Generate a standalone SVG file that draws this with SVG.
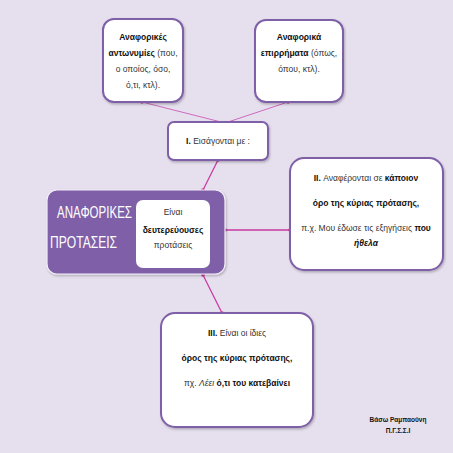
<svg xmlns="http://www.w3.org/2000/svg" width="453" height="453" viewBox="0 0 453 453">
<defs>
<marker id="dot" markerWidth="6" markerHeight="6" refX="3" refY="3" markerUnits="userSpaceOnUse">
<circle cx="3" cy="3" r="1.8" fill="#c8399f"/>
</marker>
<filter id="sh" x="-10%" y="-10%" width="130%" height="130%">
<feDropShadow dx="1" dy="1.5" stdDeviation="1" flood-color="#000" flood-opacity="0.25"/>
</filter>
</defs>
<style>
.box{fill:#fff;stroke:#7e5fa8;stroke-width:2;filter:url(#sh)}
.t{font-family:"Liberation Sans",Arial,sans-serif;font-size:8.5px;fill:#333;text-anchor:middle}
.b{font-weight:bold;fill:#111}
.c{fill:none;stroke:#d06bc0;stroke-width:1;marker-start:url(#dot);marker-end:url(#dot)}
.c2{stroke:#c8399f;stroke-width:1.3}
.w{font-family:"Liberation Sans",Arial,sans-serif;font-size:16px;fill:#fff}
</style>
<rect width="453" height="453" fill="#e6e0ee"/>
<g id="connectors">
<line class="c" x1="142" y1="102" x2="225" y2="123"/>
<line class="c" x1="288" y1="102" x2="225" y2="123"/>
<line class="c c2" x1="218" y1="160" x2="203" y2="190"/>
<line class="c c2" x1="225" y1="230" x2="290" y2="230"/>
<line class="c c2" x1="203" y1="275" x2="222" y2="313"/>
</g>
<g id="nodeA">
<rect class="box" x="103" y="19" width="80" height="83" rx="11"/>
<text class="t" x="143" y="40"><tspan class="b">Αναφορικές</tspan></text>
<text class="t" x="143" y="56"><tspan class="b">αντωνυμίες</tspan> (που,</text>
<text class="t" x="143" y="72">ο οποίος, όσο,</text>
<text class="t" x="143" y="88">ό,τι, κτλ).</text>
</g>
<g id="nodeB">
<rect class="box" x="255" y="20" width="88" height="82" rx="11"/>
<text class="t" x="299" y="40"><tspan class="b">Αναφορικά</tspan></text>
<text class="t" x="299" y="56"><tspan class="b">επιρρήματα</tspan> (όπως,</text>
<text class="t" x="299" y="72">όπου, κτλ).</text>
</g>
<g id="nodeI">
<rect class="box" x="168" y="122" width="100" height="38" rx="6"/>
<text class="t" x="218" y="144"><tspan class="b">I.</tspan> Εισάγονται  με :</text>
</g>
<g id="nodeMain">
<rect x="47" y="190" width="178" height="84" rx="10" fill="#7e5fa8" stroke="#f2eef7" stroke-width="1.2" filter="url(#sh)"/>
<text class="w" x="57" y="218" textLength="75" lengthAdjust="spacingAndGlyphs">ΑΝΑΦΟΡΙΚΕΣ</text>
<text class="w" x="50" y="248" textLength="67" lengthAdjust="spacingAndGlyphs">ΠΡΟΤΑΣΕΙΣ</text>
<rect x="136" y="200" width="74" height="68" rx="7" fill="#fff"/>
<text class="t" x="173" y="215">Είναι</text>
<text class="t" x="173" y="233"><tspan class="b">δευτερεύουσες</tspan></text>
<text class="t" x="173" y="248">προτάσεις</text>
</g>
<g id="nodeII">
<rect class="box" x="290" y="158" width="153" height="112" rx="14"/>
<text class="t" x="366" y="181"><tspan class="b">II.</tspan> Αναφέρονται σε <tspan class="b">κάποιον</tspan></text>
<text class="t b" x="366" y="206">όρο της κύριας πρότασης,</text>
<text class="t" x="366" y="231">π.χ. Μου έδωσε τις εξηγήσεις <tspan class="b">που</tspan></text>
<text class="t b" x="366" y="246" font-style="italic">ήθελα</text>
</g>
<g id="nodeIII">
<rect class="box" x="161" y="313" width="152" height="114" rx="14"/>
<text class="t" x="237" y="336"><tspan class="b">III.</tspan> Είναι οι ίδιες</text>
<text class="t b" x="237" y="361">όρος της κύριας πρότασης,</text>
<text class="t" x="237" y="386">πχ. <tspan font-style="italic">Λέει</tspan> <tspan class="b">ό,τι του κατεβαίνει</tspan></text>
</g>
<g id="signature">
<text class="t b" x="398" y="422" style="font-size:6.5px">Βάσω Ραμπαούνη</text>
<text class="t b" x="398" y="433" style="font-size:6.5px">Π.Γ.Σ.Σ.Ι</text>
</g>
</svg>
